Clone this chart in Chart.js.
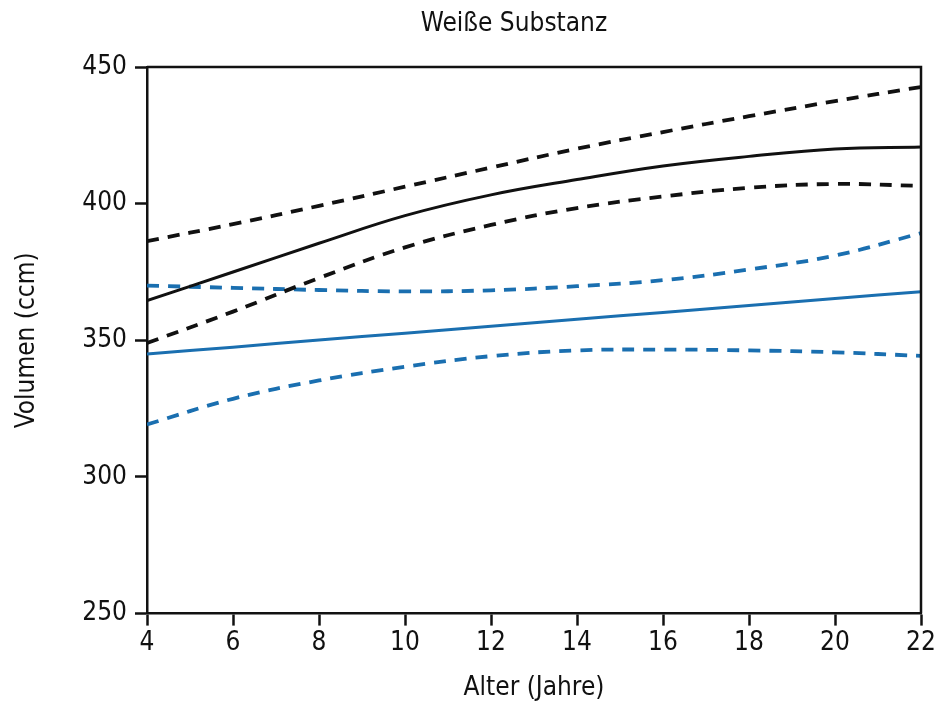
<!DOCTYPE html>
<html>
<head>
<meta charset="utf-8">
<script src="https://cdn.jsdelivr.net/npm/chart.js@4"></script>
<style>
  html, body { margin: 0; padding: 0; background: #fff; }
  #wrap { width: 942px; height: 704px; }
</style>
</head>
<body>
<div id="wrap"><canvas id="chart" width="942" height="704"></canvas></div>
<script>
  // age in years
  const ages = [4, 6, 8, 10, 12, 14, 16, 18, 20, 22];

  // group 1 (black): mean and upper/lower bounds
  const blackMean  = [364.5, 375.0, 385.5, 395.6, 403.2, 408.8, 413.8, 417.3, 420.0, 420.7];
  const blackUpper = [386.3, 392.5, 399.2, 406.2, 413.2, 420.1, 426.2, 432.0, 437.5, 442.7];
  const blackLower = [349.0, 360.5, 372.8, 384.0, 392.2, 398.4, 402.6, 405.8, 407.2, 406.5];

  // group 2 (blue)
  const blueMean  = [345.0, 347.5, 350.1, 352.6, 355.1, 357.7, 360.2, 362.7, 365.3, 367.8];
  const blueUpper = [370.0, 369.2, 368.4, 367.9, 368.3, 369.8, 372.0, 375.9, 381.0, 389.2];
  const blueLower = [319.2, 328.6, 335.3, 340.3, 344.2, 346.3, 346.6, 346.3, 345.6, 344.3];

  const yTicks = [250, 300, 350, 400, 450];
  const xTicks = [4, 6, 8, 10, 12, 14, 16, 18, 20, 22];

  const BLACK = '#111111';
  const BLUE = '#1a6fb0';
  const FONT = '"Liberation Sans Narrow", "DejaVu Sans Condensed", Arial, sans-serif';

  function pts(ys) {
    return ages.map((a, i) => ({ x: a, y: ys[i] }));
  }

  function series(label, ys, color, dashed) {
    return {
      label: label,
      data: pts(ys),
      borderColor: color,
      borderWidth: dashed ? 3.8 : 3,
      borderDash: dashed ? [12, 9] : [],
      pointRadius: 0,
      fill: false,
      tension: 0.4,
    };
  }

  // frame + title drawn after the chart
  const framePlugin = {
    id: 'frame',
    afterDraw(chart) {
      const { ctx, chartArea: a } = chart;
      ctx.save();
      ctx.strokeStyle = BLACK;
      ctx.lineWidth = 2.5;
      ctx.beginPath();
      ctx.moveTo(a.left, a.top);
      ctx.lineTo(a.right, a.top);
      ctx.lineTo(a.right, a.bottom);
      ctx.stroke();
      ctx.fillStyle = BLACK;
      ctx.font = '26px ' + FONT;
      ctx.textAlign = 'center';
      ctx.textBaseline = 'middle';
      ctx.fillText('Weiße Substanz', 514, 24);
      ctx.restore();
    },
  };

  new Chart(document.getElementById('chart'), {
    type: 'line',
    data: {
      datasets: [
        series('Mittelwert 1', blackMean, BLACK, false),
        series('Obere Grenze 1', blackUpper, BLACK, true),
        series('Untere Grenze 1', blackLower, BLACK, true),
        series('Mittelwert 2', blueMean, BLUE, false),
        series('Obere Grenze 2', blueUpper, BLUE, true),
        series('Untere Grenze 2', blueLower, BLUE, true),
      ],
    },
    options: {
      responsive: false,
      animation: false,
      layout: { padding: { top: 67, right: 21, left: 12, bottom: 0 } },
      plugins: {
        legend: { display: false },
        title: { display: false },
        tooltip: { enabled: false },
      },
      scales: {
        x: {
          type: 'linear',
          min: 4,
          max: 22,
          afterBuildTicks: (s) => { s.ticks = xTicks.map((v) => ({ value: v })); },
          grid: { drawOnChartArea: false, drawTicks: true, tickLength: 12, tickWidth: 2.5, tickColor: BLACK },
          border: { display: true, color: BLACK, width: 2.5 },
          ticks: { color: BLACK, font: { size: 26, family: FONT }, padding: 2, maxRotation: 0 },
          title: { display: true, text: 'Alter (Jahre)', color: BLACK, font: { size: 26, family: FONT }, padding: { top: 12, bottom: 0 } },
        },
        y: {
          min: 250,
          max: 450,
          afterBuildTicks: (s) => { s.ticks = yTicks.map((v) => ({ value: v })); },
          afterFit: (s) => { s.width = 135; },
          grid: { drawOnChartArea: false, drawTicks: true, tickLength: 12, tickWidth: 2.5, tickColor: BLACK },
          border: { display: true, color: BLACK, width: 2.5 },
          ticks: { color: BLACK, font: { size: 26, family: FONT }, padding: 8 },
          title: { display: true, text: 'Volumen (ccm)', color: BLACK, font: { size: 26, family: FONT }, padding: { top: 0, bottom: 0 } },
        },
      },
    },
    plugins: [framePlugin],
  });
</script>
</body>
</html>
